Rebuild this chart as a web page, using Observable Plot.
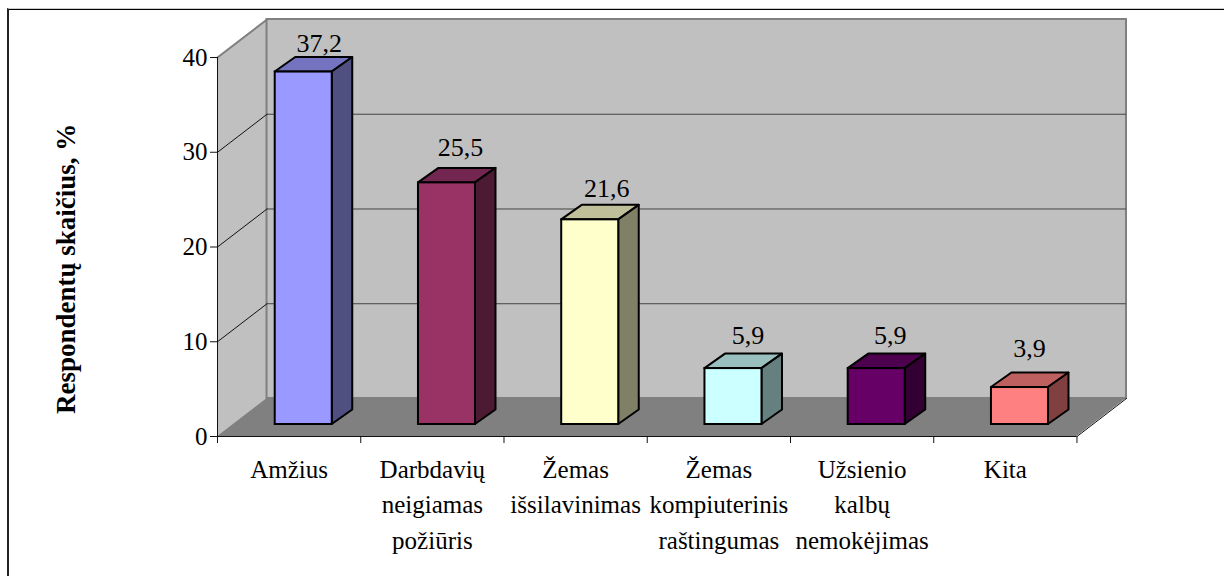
<!DOCTYPE html>
<html>
<head>
<meta charset="utf-8">
<script src="https://cdn.jsdelivr.net/npm/d3@7"></script>
<script src="https://cdn.jsdelivr.net/npm/@observablehq/plot@0.6"></script>
<style>
html,body{margin:0;padding:0;background:#fff;overflow:hidden}
#frame{position:absolute;left:7px;top:8px;width:1300px;height:700px;border-left:2px solid #222;border-top:1px solid #ccc;box-shadow:inset 0 1px 0 #000}
#chart{position:absolute;left:0;top:0}
svg{display:block}
</style>
</head>
<body>
<div id="frame"></div>
<div id="chart"></div>
<script>
const categories = ["Amžius","Darbdavių\nneigiamas\npožiūris","Žemas\nišsilavinimas","Žemas\nkompiuterinis\nraštingumas","Užsienio\nkalbų\nnemokėjimas","Kita"];
const values = [37.2,25.5,21.6,5.9,5.9,3.9];
const frontColors = ["#9999ff","#993366","#ffffcc","#ccffff","#660066","#ff8080"];
const sideColors  = ["#4f4f80","#4d1a33","#808066","#668080","#330033","#804040"];
const topColors   = ["#7373bf","#732650","#bfbf99","#99bfbf","#4d004d","#bf6060"];
const yTicks = [0,10,20,30,40];
const xBoundaries = [0,1,2,3,4,5,6];
const yTitle = "Respondentų skaičius, %";

// Scale sizes of the pseudo-3D box
const pxX = 143.2, pxY = 9.47;
const wallDX = 49.5/pxX, wallDY = 38/pxY;
const barOffset = 57.7/pxX, barWidth = 57/pxX;
const barDX = 20.5/pxX, barDY = 14.5/pxY, barBase = 12/pxY;
// Value labels sit slightly differently above each bar (pixels)
const labelNudgeX = [0,-2,1,-1,-2,-6];
const labelNudgeY = [-1,-7,-3,-5,-5,-11];

const rows = values.map((v,i)=>({i,v,cat:categories[i],front:frontColors[i],side:sideColors[i],top:topColors[i],
  xl:i+barOffset, xr:i+barOffset+barWidth, yb:barBase, yt:barBase+v}));
const sidePts = rows.flatMap(r=>[
  {i:r.i,x:r.xr,y1:r.yb,y2:r.yt,f:r.side},
  {i:r.i,x:r.xr+barDX,y1:r.yb+barDY,y2:r.yt+barDY,f:r.side}]);
const topPts = rows.flatMap(r=>[
  {i:r.i,y:r.yt,x1:r.xl,x2:r.xr,f:r.top},
  {i:r.i,y:r.yt+barDY,x1:r.xl+barDX,x2:r.xr+barDX,f:r.top}]);
const floorPts = [{y:0,x1:0,x2:6},{y:wallDY,x1:wallDX,x2:6+wallDX}];
const leftWallPts = [{x:0,y1:0,y2:40},{x:wallDX,y1:wallDY,y2:40+wallDY}];
const grid = [10,20,30];
const fontFamily = "'Liberation Serif','Times New Roman',serif";

const plot = Plot.plot({
  width:1224, height:576,
  marginLeft:217, marginRight:98, marginTop:19, marginBottom:140,
  style:{fontFamily, background:"transparent", overflow:"visible"},
  x:{type:"linear",domain:[0,6+wallDX],axis:null},
  y:{type:"linear",domain:[0,40+wallDY],axis:null},
  color:{type:"identity"},
  marks:[
    Plot.areaY(leftWallPts,{x:"x",y1:"y1",y2:"y2",fill:"#c0c0c0"}),
    Plot.rect([0],{x1:wallDX,x2:6+wallDX,y1:wallDY,y2:40+wallDY,fill:"#c0c0c0",stroke:"#808080",strokeWidth:2}),
    Plot.areaX(floorPts,{y:"y",x1:"x1",x2:"x2",fill:"#808080"}),
    Plot.ruleY(grid,{x1:wallDX,x2:6+wallDX,y:d=>d+wallDY,stroke:"#444",strokeWidth:1}),
    ...grid.map(g=>Plot.line([[0,g],[wallDX,g+wallDY]],{stroke:"#111",strokeWidth:1})),
    Plot.line([[0,40],[wallDX,40+wallDY]],{stroke:"#808080",strokeWidth:2}),
    Plot.line([[6,0],[6+wallDX,wallDY]],{stroke:"#111",strokeWidth:1}),
    Plot.ruleX([0],{y1:0,y2:40,stroke:"#111",strokeWidth:1}),
    Plot.ruleY([0],{x1:0,x2:6,stroke:"#111",strokeWidth:1}),
    Plot.axisY({ticks:yTicks,tickSize:7,tickPadding:3,fontSize:25,label:null,stroke:"#111",fill:"#000",tickFormat:d=>String(d)}),
    Plot.axisX({ticks:xBoundaries,tickSize:7,tickFormat:()=>"",label:null,stroke:"#111"}),
    Plot.text(rows,{x:d=>d.i+0.5,y:0,text:"cat",dy:16,lineAnchor:"top",lineHeight:1.42,fontSize:25,fill:"#000"}),
    Plot.text([yTitle],{x:-151/pxX,y:17.7,rotate:-90,fontWeight:"bold",fontSize:27,fill:"#000"}),
    ...rows.flatMap(r=>[
      Plot.areaX(topPts.filter(d=>d.i===r.i),{y:"y",x1:"x1",x2:"x2",fill:"f",stroke:"#000",strokeWidth:2}),
      Plot.areaY(sidePts.filter(d=>d.i===r.i),{x:"x",y1:"y1",y2:"y2",fill:"f",stroke:"#000",strokeWidth:2}),
      Plot.rect([r],{x1:"xl",x2:"xr",y1:"yb",y2:"yt",fill:"front",stroke:"#000",strokeWidth:2})
    ]),
    ...rows.map(r=>Plot.text([r],{x:d=>d.xl+44/pxX,y:d=>d.yt+barDY,text:d=>String(d.v).replace(".",","),dx:labelNudgeX[r.i],dy:-5+labelNudgeY[r.i],lineAnchor:"bottom",fontSize:26,fill:"#000"}))
  ]
});
document.getElementById("chart").appendChild(plot);
</script>
</body>
</html>
